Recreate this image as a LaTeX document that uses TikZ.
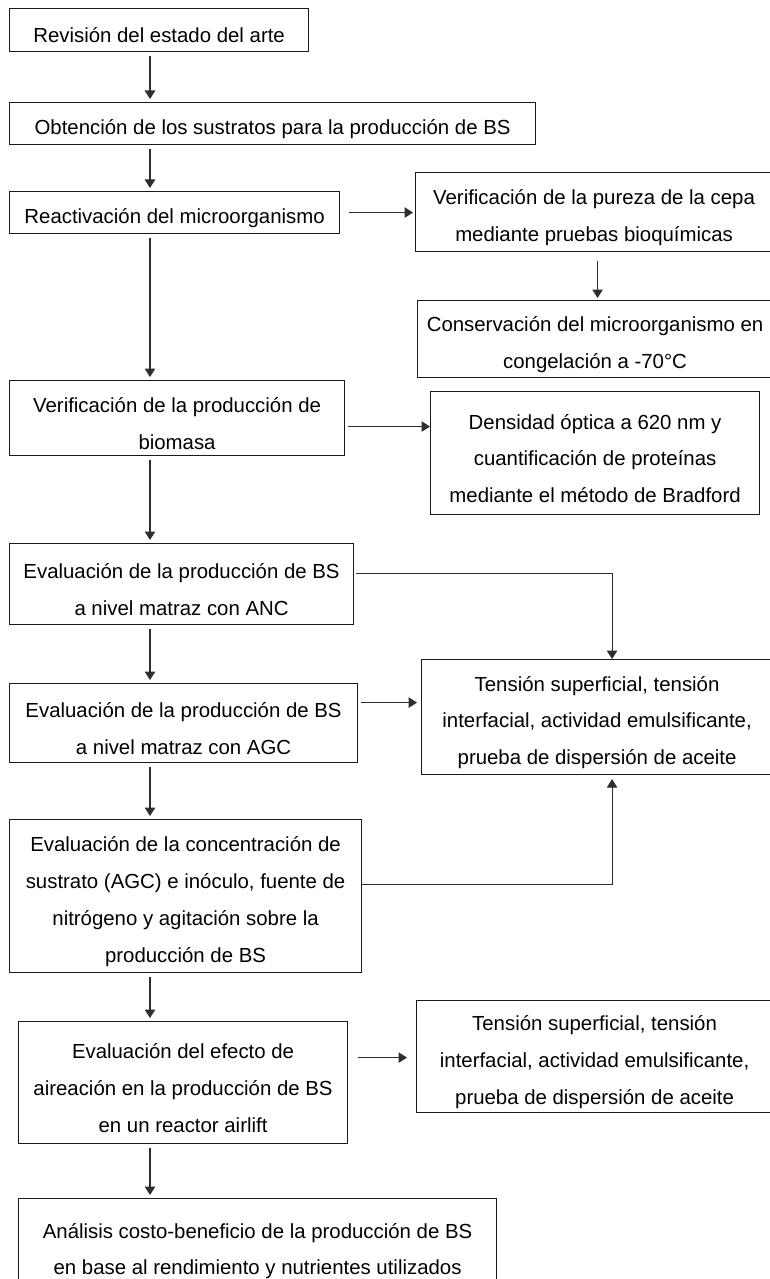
\documentclass[tikz,border=0pt]{standalone}
\usepackage{fontspec}
\setmainfont{Liberation Sans}
\usetikzlibrary{positioning, arrows.meta, calc}
\definecolor{boxline}{HTML}{1A1A1A}
\definecolor{linkline}{HTML}{2E2E2E}
\newcommand{\vpad}{\rule{0pt}{5.2mm}}

\begin{document}
\begin{tikzpicture}[
  stage/.style={rectangle, draw=boxline, line width=0.65pt, align=center, anchor=north west, inner sep=1pt, font=\fontsize{11.6pt}{20.9pt}\selectfont},
  arrow/.style={-{Triangle[length=1.7mm, width=2.1mm]}, color=linkline, line width=0.65pt},
  vflow/.style={arrow, shorten <=0.08cm, shorten >=0.06cm},
]
\useasboundingbox (0,0) rectangle (15.38,-25.58);
\coordinate (spine) at (3.0,0);

\node[stage, minimum width=5.98cm, minimum height=0.86cm] (rev) at (0.18,-0.16) {\vpad Revisión del estado del arte};
\node[stage, minimum width=10.52cm, minimum height=0.84cm] (obt) at (0.18,-2.04) {\vpad Obtención de los sustratos para la producción de BS};
\node[stage, minimum width=6.60cm, minimum height=0.84cm] (react) at (0.18,-3.82) {\vpad Reactivación del microorganismo};
\node[stage, minimum width=7.14cm, minimum height=1.58cm] (pur) at (8.30,-3.44)
  {\vpad Verificación de la pureza de la cepa\\mediante pruebas bioquímicas};
\node[stage, minimum width=7.10cm, minimum height=1.54cm] (cons) at (8.34,-6.00)
  {\vpad Conservación del microorganismo en\\congelación a -70°C};
\node[stage, minimum width=6.70cm, minimum height=1.50cm] (bio) at (0.18,-7.60)
  {\vpad Verificación de la producción de\\biomasa};
\node[stage, minimum width=6.58cm, minimum height=2.46cm] (dens) at (8.60,-7.82)
  {\vpad Densidad óptica a 620 nm y\\cuantificación de proteínas\\mediante el método de Bradford};
\node[stage, minimum width=6.88cm, minimum height=1.62cm] (anc) at (0.18,-10.86)
  {\vpad Evaluación de la producción de BS\\a nivel matraz con ANC};
\node[stage, minimum width=6.96cm, minimum height=1.58cm] (agc) at (0.18,-13.66)
  {\vpad Evaluación de la producción de BS\\a nivel matraz con AGC};
\node[stage, minimum width=7.02cm, minimum height=2.30cm] (ten1) at (8.42,-13.18)
  {\vpad Tensión superficial, tensión\\interfacial, actividad emulsificante,\\prueba de dispersión de aceite};
\node[stage, minimum width=7.04cm, minimum height=3.06cm] (conc) at (0.18,-16.38)
  {\vpad Evaluación de la concentración de\\sustrato (AGC) e inóculo, fuente de\\nitrógeno y agitación sobre la\\producción de BS};
\node[stage, minimum width=6.58cm, minimum height=2.44cm] (air) at (0.36,-20.42)
  {\vpad Evaluación del efecto de\\aireación en la producción de BS\\en un reactor airlift};
\node[stage, minimum width=7.12cm, minimum height=2.24cm] (ten2) at (8.32,-20.00)
  {\vpad Tensión superficial, tensión\\interfacial, actividad emulsificante,\\prueba de dispersión de aceite};
\node[stage, minimum width=9.56cm, minimum height=1.88cm] (ana) at (0.36,-23.96)
  {\vpad Análisis costo-beneficio de la producción de BS\\en base al rendimiento y nutrientes utilizados};

\draw[vflow] (rev.south -| spine) -- (obt.north -| spine);
\draw[vflow] (obt.south -| spine) -- (react.north -| spine);
\draw[vflow] (react.south -| spine) -- (bio.north -| spine);
\draw[vflow] (bio.south -| spine) -- (anc.north -| spine);
\draw[vflow] (anc.south -| spine) -- (agc.north -| spine);
\draw[vflow] (agc.south -| spine) -- (conc.north -| spine);
\draw[vflow] (conc.south -| spine) -- (air.north -| spine);
\draw[vflow] (air.south -| spine) -- (ana.north -| spine);

\draw[arrow, shorten <=0.18cm, shorten >=0.04cm] (react.east) -- (react.east -| pur.west);
\draw[arrow, shorten <=0.18cm, shorten >=0.04cm] ([xshift=0.07cm]pur.south) -- ([xshift=0.07cm]pur.south |- cons.north);
\draw[arrow, shorten <=0.06cm] ([yshift=-0.17cm]bio.east) -- ([yshift=-0.17cm]bio.east -| dens.west);
\draw[arrow, shorten <=0.04cm] ([yshift=0.21cm]anc.east) -| ([xshift=0.30cm]ten1.north);
\draw[arrow, shorten <=0.06cm, shorten >=0.08cm] ([yshift=0.41cm]agc.east) -- ([yshift=0.41cm]agc.east -| ten1.west);
\draw[arrow, shorten >=0.08cm] ([yshift=0.23cm]conc.east) -| ([xshift=0.30cm]ten1.south);
\draw[arrow, shorten <=0.2cm, shorten >=0.18cm] ([yshift=0.5cm]air.east) -- ([yshift=0.5cm]air.east -| ten2.west);
\end{tikzpicture}
\end{document}
